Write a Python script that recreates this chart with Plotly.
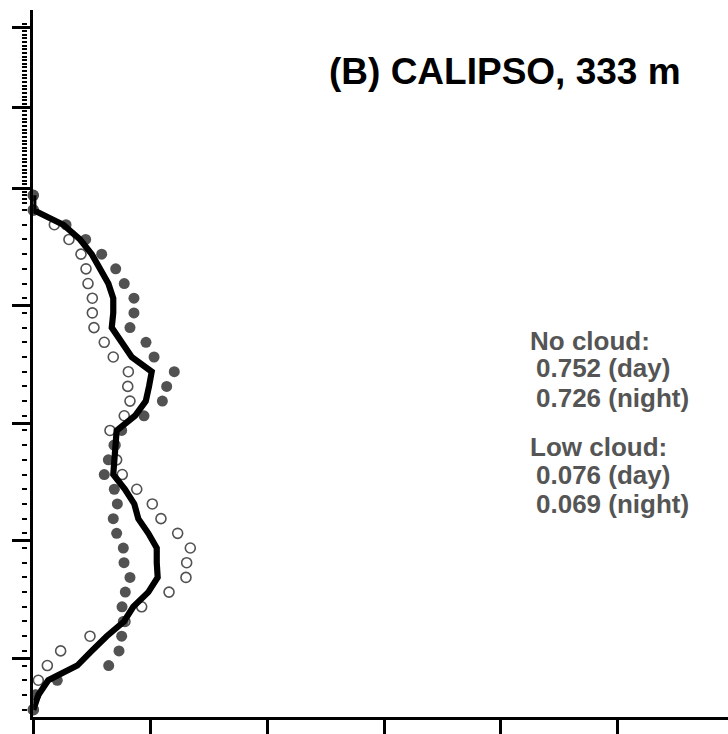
import plotly.graph_objects as go

# ---- data (height-bin index from the bottom, bin centres at level + 0.5) ----
levels = list(range(36))
day_filled = [0.000, 0.002, 0.0205, 0.0645, 0.0733, 0.0756, 0.0770, 0.0759, 0.0787, 0.0827,
              0.0776, 0.0770, 0.0713, 0.0684, 0.0719, 0.0693, 0.0607, 0.0642, 0.0690, 0.0756,
              0.0947, 0.1104, 0.1141, 0.1206, 0.1033, 0.0964, 0.0827, 0.0861, 0.0861, 0.0778,
              0.0705, 0.0585, 0.0448, 0.0280, 0.000, 0.000]
night_open = [0.000, 0.002, 0.0043, 0.0120, 0.0234, 0.0485, 0.0784, 0.0927, 0.1161, 0.1306,
              0.1312, 0.1343, 0.1235, 0.1092, 0.1018, 0.0885, 0.0761, 0.0713, 0.0699, 0.0656,
              0.0778, 0.0827, 0.0808, 0.0813, 0.0684, 0.0607, 0.0519, 0.0505, 0.0505, 0.0468,
              0.0451, 0.0408, 0.0305, 0.0180, 0.000, 0.000]
mean_line = [0.000, 0.0043, 0.0128, 0.0376, 0.0500, 0.0628, 0.0776, 0.0855, 0.0984, 0.1064,
             0.1056, 0.1056, 0.0984, 0.0898, 0.0864, 0.0784, 0.0684, 0.0693, 0.0699, 0.0713,
             0.0870, 0.0962, 0.0990, 0.1013, 0.0842, 0.0756, 0.0671, 0.0684, 0.0684, 0.0642,
             0.0571, 0.0500, 0.0400, 0.0257, 0.000, 0.000]

x_ticks = [0.0, 0.1, 0.2, 0.3, 0.4, 0.5]
y_major_ticks = [4, 12, 20, 28, 36, 41.47, 46.94]
y_minor_ticks = [l + 0.5 for l in levels] + [36 + j * 0.2486 for j in range(-4, 46)]

title_text = "(B) CALIPSO, 333 m"
stats_lines = ["No cloud:", "0.752 (day)", "0.726 (night)",
               "Low cloud:", "0.076 (day)", "0.069 (night)"]

# ---- figure ----
W, H = 728, 734
ML, MR, MT, MB = 0, 0, 10, 17
X0 = 33.3  # y-axis pixel position
y_range = [0, (H - MT - MB) / 14.694]
x_range = [0, (W - X0) / 1169.0]

yc = [l + 0.5 for l in levels]
fig = go.Figure()
fig.add_trace(go.Scatter(x=day_filled, y=yc, mode="markers",
                         marker=dict(symbol="circle", size=11, color="#525252"),
                         cliponaxis=False, showlegend=False, hoverinfo="skip"))
fig.add_trace(go.Scatter(x=night_open, y=yc, mode="markers",
                         marker=dict(symbol="circle-open", size=10, color="#525252",
                                     line=dict(width=1.6, color="#525252")),
                         cliponaxis=False, showlegend=False, hoverinfo="skip"))
fig.add_trace(go.Scatter(x=mean_line, y=yc, mode="lines",
                         line=dict(color="black", width=6.2),
                         cliponaxis=False, showlegend=False, hoverinfo="skip"))
fig.add_trace(go.Scatter(x=[None], y=[None], yaxis="y2", mode="markers",
                         showlegend=False, hoverinfo="skip"))

def py(p):
    return (H - MB - p) / (H - MT - MB)

annos = [dict(text="<b>%s</b>" % title_text, x=505 / W, y=py(71.3), xanchor="center",
              yanchor="middle", font=dict(size=37, color="black",
                                           family="Liberation Sans, Arial, sans-serif"))]
line_y = [341, 368, 397.5, 446, 475, 504]
line_x = [528, 534, 534, 528, 534, 534]
for t, yy, xx in zip(stats_lines, line_y, line_x):
    annos.append(dict(text="<b>%s</b>" % t, x=xx / W, y=py(yy), xanchor="left",
                      yanchor="middle", height=29,
                      font=dict(size=26, color="#555555",
                                family="Liberation Sans, Arial, sans-serif")))
for a in annos:
    a.update(xref="paper", yref="paper", showarrow=False)

fig.update_layout(
    width=W, height=H,
    margin=dict(l=ML, r=MR, t=MT, b=MB, pad=0),
    paper_bgcolor="white", plot_bgcolor="white",
    showlegend=False,
    annotations=annos,
    xaxis=dict(domain=[X0 / W, 1], range=x_range, showgrid=False, zeroline=False,
               showline=True, linecolor="black", linewidth=3.3,
               tickmode="array", tickvals=x_ticks, ticks="outside", ticklen=18,
               tickwidth=2.7, tickcolor="black", showticklabels=False),
    yaxis=dict(range=y_range, showgrid=False, zeroline=False,
               showline=True, linecolor="black", linewidth=2.7,
               tickmode="array", tickvals=y_major_ticks, ticks="outside", ticklen=18,
               tickwidth=2.7, tickcolor="black", showticklabels=False),
    yaxis2=dict(overlaying="y", anchor="free", position=27.3 / W, side="left",
                range=y_range, showgrid=False, zeroline=False, showline=False,
                tickmode="array", tickvals=y_minor_ticks, ticks="outside", ticklen=5.3,
                tickwidth=1.7, tickcolor="black", showticklabels=False),
)

fig.write_html("out.html")
